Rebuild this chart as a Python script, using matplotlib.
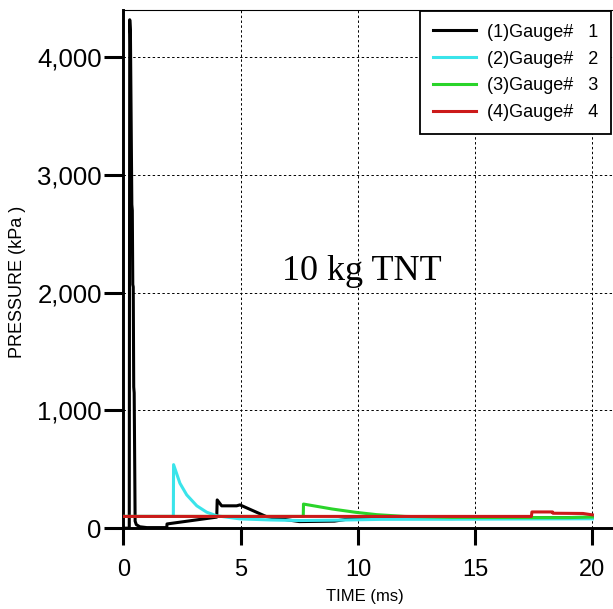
import matplotlib
matplotlib.use('Agg')
import matplotlib.pyplot as plt
from matplotlib.ticker import StrMethodFormatter

# gauge records (time in ms, pressure in kPa)
t1 = [0, 0.25, 0.27, 0.30, 0.36, 0.38, 0.40, 0.42, 0.44, 0.46, 0.50, 0.55, 0.7, 1.0, 1.85, 1.86,
      3.98, 4.0, 4.19, 4.83, 4.97, 6.1, 7.5, 9.0, 9.6, 10.5, 14.0, 17.0, 20.0]
p1 = [0, 0, 4320, 4200, 2750, 2700, 2070, 2050, 1200, 1150, 60, 30, 12, 5, 5, 36,
      94, 240, 190, 190, 198, 98, 56, 60, 78, 85, 82, 88, 92]

t2 = [0, 2.13, 2.14, 2.41, 2.7, 3.13, 3.55, 3.98, 4.97, 6.25, 7.53, 9.0, 11.0, 14.0, 17.0, 20.0]
p2 = [100, 100, 540, 382, 283, 190, 136, 105, 79, 70, 65, 68, 75, 76, 78, 80]

t3 = [0, 7.67, 7.68, 8.9, 9.9, 10.8, 12.0, 14.0, 17.4, 19.0, 20.0]
p3 = [100, 100, 205, 163, 135, 115, 100, 92, 90, 90, 95]

t4 = [0, 17.4, 17.42, 18.3, 18.32, 19.6, 20.0]
p4 = [100, 100, 138, 138, 127, 125, 113]

labels = ['(1)Gauge#   1', '(2)Gauge#   2', '(3)Gauge#   3', '(4)Gauge#   4']
colors = ['black', '#3ae4ea', '#2ad42a', '#cc1a1a']
x_ticks = [0, 5, 10, 15, 20]
y_ticks = [0, 1000, 2000, 3000, 4000]

plt.rcParams['font.family'] = ['Liberation Sans', 'DejaVu Sans']

fig = plt.figure(figsize=(6.13, 6.09), dpi=100)
ax = fig.add_axes([0.2013, 0.1327, 0.8416, 0.8509])

series = [(t1, p1), (t2, p2), (t3, p3), (t4, p4)]
for i, (t, p) in enumerate(series):
    ax.plot(t, p, color=colors[i], lw=2.2, label=labels[i], zorder=3 + i)

ax.set_xlim(0, 22)
ax.set_ylim(0, 4403)
ax.set_xticks(x_ticks)
ax.set_yticks(y_ticks)
ax.yaxis.set_major_formatter(StrMethodFormatter('{x:,.0f}'))

ax.grid(True, color='black', linestyle=(0, (2.5, 2.5)), linewidth=0.7)
ax.set_axisbelow(True)

for side in ['left', 'bottom']:
    ax.spines[side].set_linewidth(2.1)
for side in ['top', 'right']:
    ax.spines[side].set_linewidth(0.8)

ax.tick_params(axis='y', direction='out', length=14, width=2.2, pad=1.5, labelsize=18.5)
ax.tick_params(axis='x', direction='out', length=12.5, width=2.2, pad=9.5, labelsize=17)

ax.set_xlabel('TIME (ms)', fontsize=12)
ax.set_ylabel('PRESSURE (kPa )', fontsize=13)
ax.xaxis.set_label_coords(0.468, -0.118)
ax.yaxis.set_label_coords(-0.189, 0.475)

ax.text(6.75, 2109, '10 kg TNT', fontsize=26, family='Liberation Serif',
        ha='left', va='baseline', zorder=10)

leg = ax.legend(loc='upper left', bbox_to_anchor=(420 / 613, 1 - 11 / 609),
                bbox_transform=fig.transFigure, fontsize=13, frameon=True,
                fancybox=False, framealpha=1, edgecolor='black', borderaxespad=0,
                handlelength=2.4, handletextpad=0.6, labelspacing=0.55, borderpad=0.7)
leg.get_frame().set_linewidth(1.3)
leg.set_zorder(20)

fig.savefig('out.png', dpi=100)
